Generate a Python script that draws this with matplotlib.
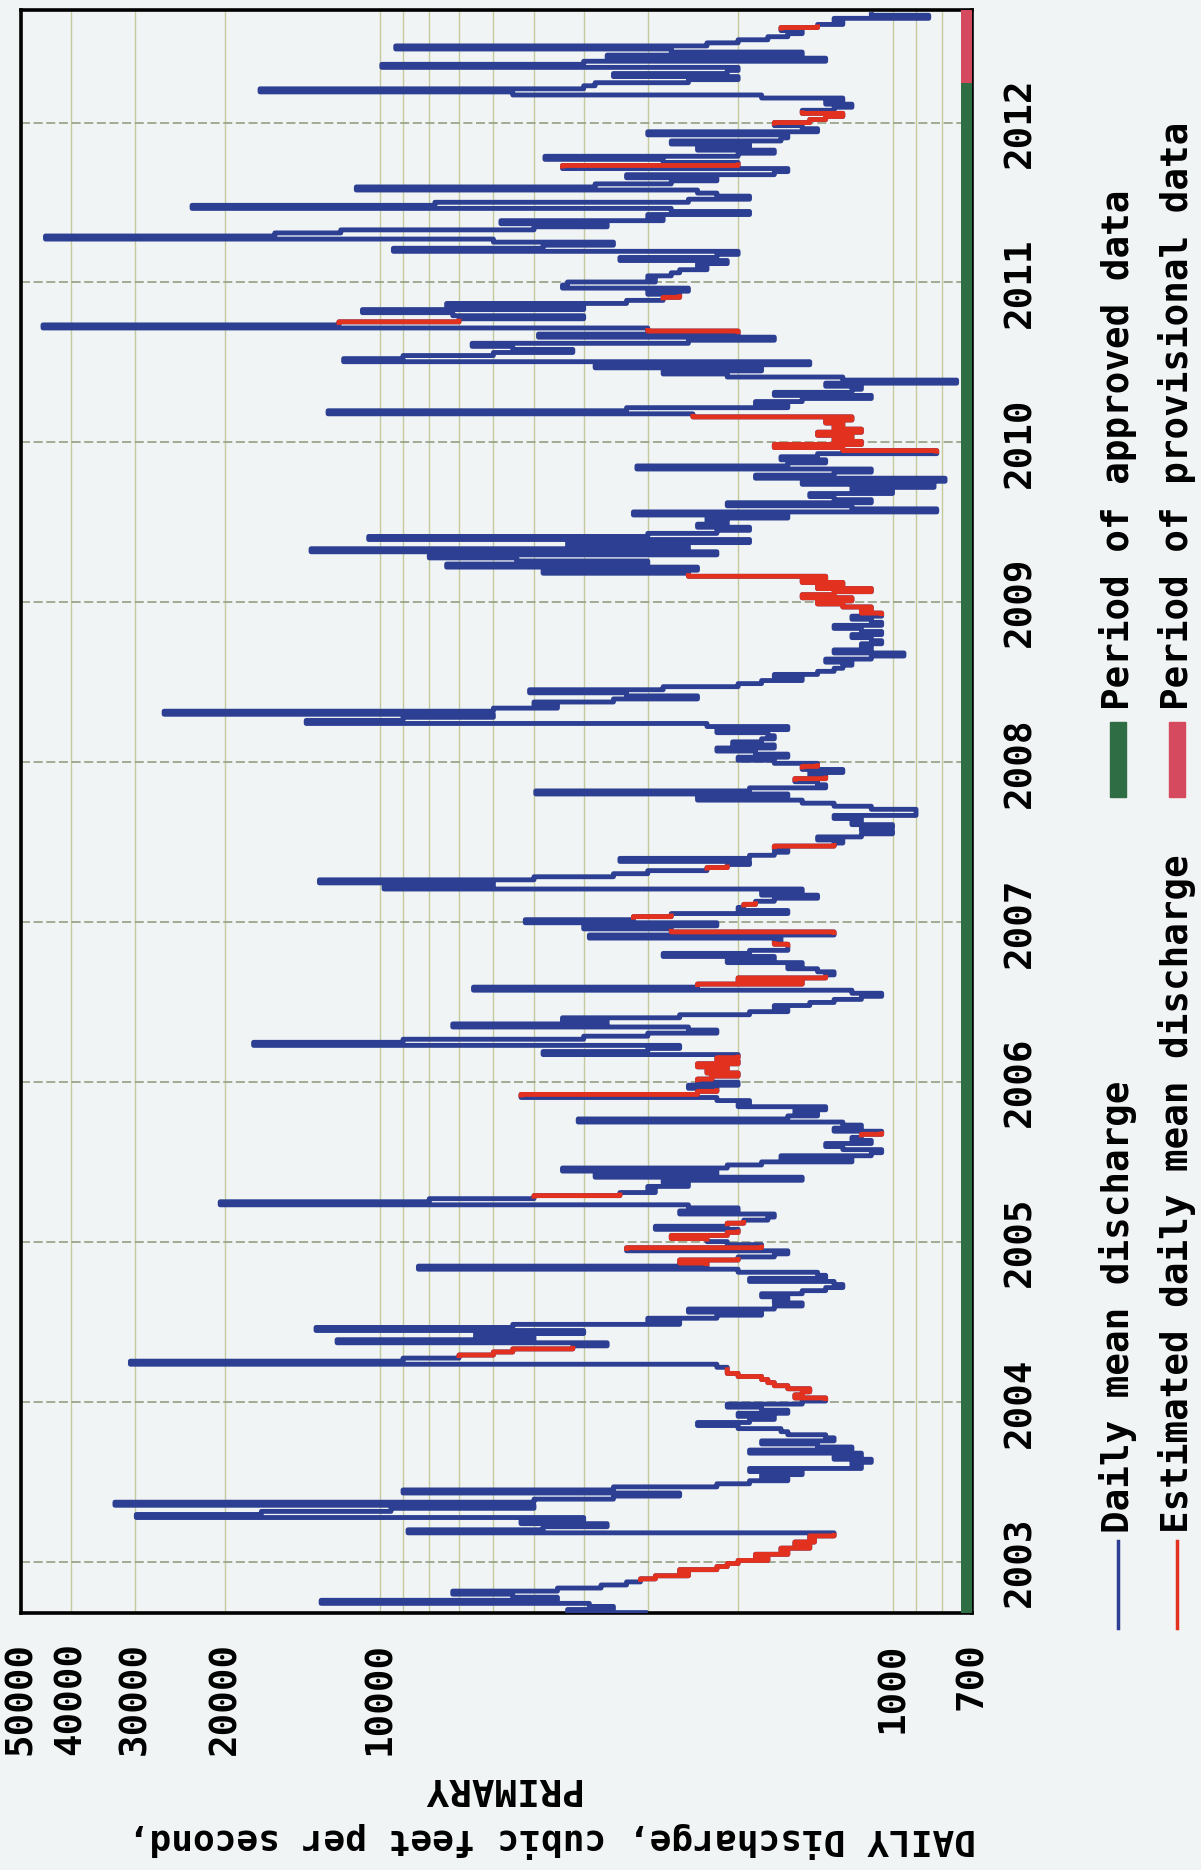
import numpy as np
import pandas as pd
import matplotlib
matplotlib.use("Agg")
import matplotlib.pyplot as plt
from matplotlib.lines import Line2D
from matplotlib.patches import Rectangle
from matplotlib.ticker import NullFormatter

# ---------------------------------------------------------
# data read off the scanned hydrograph (weekly steps, cfs)
# first week starts 2002-09-08
# ---------------------------------------------------------

start_date = "2002-09-08"

flow = [
    3000, 4300, 3500, 3900, 13000, 4500, 5500, 7200, 4500, 3700,
    3300, 3100, 2900, 2500, 2600, 2200, 2100, 2000, 1750, 1850,
    1600, 1650, 1450, 1550, 1420, 1450, 1300, 8800, 4800, 3600,
    5300, 4000, 29800, 17000, 9500, 5000, 32800, 5000, 3500, 2600,
    9000, 3500, 2200, 1900, 1600, 1800, 1500, 1900, 1150, 1200,
    1100, 1300, 1150, 1900, 1200, 1400, 1800, 1300, 1350, 1600,
    1650, 2000, 2400, 1900, 1700, 2000, 1600, 1800, 2100, 1500,
    1350, 1550, 1500, 1450, 1600, 1700, 1750, 1800, 2000, 2100,
    2100, 2200, 30600, 9000, 7000, 6000, 5500, 4200, 3600, 12100,
    5000, 6500, 4000, 13300, 5500, 2600, 3000, 2200, 1800, 2500,
    1700, 1500, 1700, 1600, 1800, 1500, 1350, 1250, 1300, 1900,
    1350, 1400, 2000, 8400, 2300, 2600, 2000, 1700, 1600, 3300,
    1800, 2100, 2300, 2700, 2100, 2000, 2900, 2100, 1950, 1750,
    1700, 2600, 2000, 2500, 20450, 8000, 5000, 3400, 2900, 3000,
    2500, 2800, 1500, 3800, 2200, 4400, 2100, 1800, 1200, 1650,
    1100, 1050, 1250, 1350, 1100, 1200, 1150, 1050, 1300, 1150,
    1250, 4100, 1600, 1400, 1550, 1350, 2000, 1900, 2200, 5300,
    2400, 2200, 2500, 2000, 2400, 2250, 2000, 2300, 2100, 2400,
    2000, 2200, 2000, 4800, 3000, 2600, 17600, 9000, 4000, 3000,
    2200, 2500, 7200, 3600, 4400, 2600, 1900, 1600, 1700, 1450,
    1300, 1150, 1050, 1200, 6560, 2400, 1500, 2000, 1350, 1300,
    1400, 1600, 1500, 2100, 1700, 2800, 1900, 1600, 1600, 1700,
    1650, 3900, 1300, 2700, 4000, 2200, 5200, 3200, 2700, 1600,
    2000, 1950, 1850, 1700, 1400, 1800, 1500, 9800, 6000, 13100,
    5000, 3500, 3000, 2300, 2100, 1900, 3400, 1900, 1700, 1600,
    1700, 1300, 1250, 1400, 1150, 1000, 1150, 1000, 1200, 1150,
    1300, 900, 900, 1100, 1300, 1500, 2400, 1600, 4960, 1900,
    1350, 1400, 1550, 1350, 1450, 1250, 1500, 1400, 1700, 2000,
    1600, 1850, 2200, 1700, 2050, 1800, 1700, 1750, 2200, 1600,
    2300, 13900, 9000, 6000, 26300, 6000, 4500, 5000, 3500, 2400,
    3300, 5100, 2800, 2000, 1800, 1500, 1700, 1400, 1300, 1250,
    1200, 1350, 1100, 950, 1300, 1100, 1150, 1050, 1100, 1200,
    1050, 1150, 1300, 1050, 1100, 1200, 1050, 1150, 1100, 1250,
    1400, 1200, 1500, 1300, 1100, 1400, 1250, 1500, 1350, 2500,
    4800, 2400, 7400, 3000, 5400, 8000, 2200, 13600, 2500, 4300,
    1900, 10500, 3000, 2200, 1900, 2400, 2100, 2300, 1600, 3200,
    820, 1200, 2100, 1100, 1300, 1450, 1000, 1200, 830, 1500,
    790, 1850, 1300, 1100, 3150, 1600, 1350, 1650, 1400, 820,
    1250, 1700, 1150, 1300, 1200, 1400, 1150, 1300, 1250, 1350,
    1200, 2450, 12600, 3300, 1600, 1850, 1500, 1100, 1700, 1200,
    1150, 1350, 750, 1250, 2100, 2800, 1800, 3800, 1450, 11750,
    9000, 6000, 4200, 5500, 6600, 2500, 1700, 4900, 2000, 3000,
    45300, 12000, 7000, 4000, 7200, 10800, 4000, 7400, 3300, 2800,
    2600, 3000, 2500, 4400, 4300, 2900, 3000, 2700, 2600, 2300,
    2400, 2100, 3400, 2200, 2000, 9400, 4800, 3500, 6000, 44800,
    16000, 11900, 5000, 3600, 5800, 2800, 3000, 1900, 2700, 23200,
    7800, 2500, 1900, 2200, 2400, 11100, 3800, 2700, 2200, 3300,
    1700, 1600, 4400, 2000, 2800, 4760, 2000, 1700, 2400, 1900,
    2700, 1650, 1600, 3000, 1400, 1500, 1700, 1450, 1350, 1250,
    1500, 1300, 1200, 1350, 1250, 1800, 5500, 17100, 4000, 3800,
    2500, 2000, 3500, 2100, 2000, 9900, 4000, 1350, 3600, 1500,
    2700, 9300, 2300, 2000, 1750, 1600, 1500, 1650, 1400, 1250,
    1300, 850, 1100,
]

# week index ranges flagged as estimated (drawn red)
estimated_weeks = [
    (11, 25), (70, 79), (84, 86), (114, 115), (119, 119),
    (122, 122), (124, 124), (127, 127), (136, 136), (156, 156),
    (169, 170), (174, 174), (176, 176), (178, 179), (181, 181),
    (205, 205), (207, 207), (218, 218), (222, 222), (227, 227),
    (231, 231), (243, 243), (250, 250), (272, 272), (276, 276),
    (326, 338), (379, 390), (418, 418), (421, 421), (429, 429),
    (472, 472), (486, 487), (489, 489), (517, 517),
]

provisional_from = "2012-04-01"
period_start = "2002-09-07"
period_end = "2012-09-14"

year_ticks = list(range(2003, 2013))
flow_ticks = [700, 1000, 10000, 20000, 30000, 40000, 50000]
flow_grid = [800, 900, 2000, 3000, 4000, 5000, 6000, 7000, 8000, 9000]

legend_lines = ["Daily mean discharge", "Estimated daily mean discharge"]
legend_periods = ["Period of approved data", "Period of provisional data"]

# ---------------------------------------------------------

BG = "#f1f4f5"
BLUE = "#2c3f92"
RED = "#e2321f"
GREEN = "#2f6e45"
PINK = "#d64a5f"
GRID_V = "#c4ca9c"
GRID_H = "#9ba58a"

W, H = 1201, 1870

plt.rcParams["font.family"] = ["DejaVu Sans Mono"]
plt.rcParams["font.weight"] = "bold"
plt.rcParams["font.size"] = 27


def px(x, y):
    return x / W, 1 - y / H


fig = plt.figure(figsize=(W / 100, H / 100), dpi=100)
fig.patch.set_facecolor(BG)

ax = fig.add_axes([21 / W, 1 - 1613 / H, 951 / W, 1603 / H])
ax.set_facecolor(BG)

dates = pd.date_range(start_date, periods=len(flow), freq="7D")
q = np.array(flow, dtype=float)

est = np.zeros(len(q), dtype=bool)
for a, b in estimated_weeks:
    est[a:b + 2] = True
q_est = np.where(est, q, np.nan)

ax.set_xscale("log")

ax.plot(q, dates, drawstyle="steps-post", color=BLUE,
        lw=3.5, solid_capstyle="butt", zorder=3)
ax.plot(q_est, dates, drawstyle="steps-post", color=RED,
        lw=3.5, solid_capstyle="butt", zorder=4)

# approval status strip along the low-flow edge
t0 = pd.Timestamp(period_start)
tp = pd.Timestamp(provisional_from)
t1 = pd.Timestamp(period_end)
ax.fill_betweenx([t0, tp], 700, 735, color=GREEN, lw=0, zorder=5)
ax.fill_betweenx([tp, t1], 700, 735, color=PINK, lw=0, zorder=5)

ax.set_xlim(50000, 700)
ax.set_ylim(t0, t1)

ax.set_xticks(flow_ticks)
ax.set_xticklabels([str(v) for v in flow_ticks])
ax.set_xticks(flow_grid, minor=True)
ax.xaxis.set_minor_formatter(NullFormatter())

ax.yaxis.tick_right()
ax.set_yticks([pd.Timestamp(f"{y}-01-01") for y in year_ticks])
ax.set_yticklabels([str(y) for y in year_ticks])

ax.grid(True, axis="x", which="both", color=GRID_V, lw=1.0, zorder=1)
ax.grid(True, axis="y", which="major", color=GRID_H, lw=1.3,
        ls=(0, (5, 2)), zorder=1)

ax.tick_params(axis="x", which="both", length=0, pad=21, labelrotation=90)
ax.tick_params(axis="y", which="both", length=0, pad=22, labelrotation=90)
for lbl in ax.get_yticklabels():
    lbl.set_va("center")

for s in ax.spines.values():
    s.set_color("black")
    s.set_linewidth(2.6)

# y-label (upside down in the scan)
fig.text(*px(500, 1788), "PRIMARY", rotation=180,
         ha="center", va="center")
fig.text(*px(552, 1840), "DAILY Discharge, cubic feet per second,",
         rotation=180, ha="center", va="center", fontsize=26)

# legend
cols = [1118, 1177]
for x, label, color in zip(cols, legend_lines, [BLUE, RED]):
    fig.add_artist(Line2D([px(x, 0)[0]] * 2,
                          [px(0, 1628)[1], px(0, 1541)[1]],
                          color=color, lw=2.5,
                          transform=fig.transFigure))
    fig.text(*px(x, 1533), label, rotation=90, ha="center", va="bottom")

for x, label, color in zip(cols, legend_periods, [GREEN, PINK]):
    x0, y0 = px(x - 8, 797)
    fig.add_artist(Rectangle((x0, y0), 16 / W, 75 / H, color=color,
                             transform=fig.transFigure))
    fig.text(*px(x, 710), label, rotation=90, ha="center", va="bottom")

fig.savefig("out.png", dpi=100, facecolor=BG)
plt.close(fig)
